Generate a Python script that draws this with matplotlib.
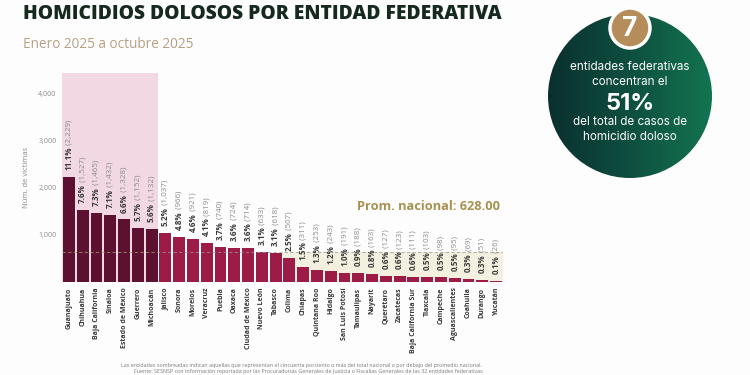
import numpy as np
import matplotlib
matplotlib.use('Agg')
import matplotlib.pyplot as plt
from matplotlib.patches import Circle, Rectangle

ESTADOS = ['Guanajuato', 'Chihuahua', 'Baja California', 'Sinaloa', 'Estado de México',
           'Guerrero', 'Michoacán', 'Jalisco', 'Sonora', 'Morelos', 'Veracruz', 'Puebla',
           'Oaxaca', 'Ciudad de México', 'Nuevo León', 'Tabasco', 'Colima', 'Chiapas',
           'Quintana Roo', 'Hidalgo', 'San Luis Potosí', 'Tamaulipas', 'Nayarit',
           'Querétaro', 'Zacatecas', 'Baja California Sur', 'Tlaxcala', 'Campeche',
           'Aguascalientes', 'Coahuila', 'Durango', 'Yucatán']
VICTIMAS = [2229, 1527, 1465, 1432, 1328, 1152, 1132, 1037, 966, 921, 819, 740,
            724, 714, 633, 618, 507, 311, 253, 243, 191, 188, 163, 127, 123, 111,
            103, 98, 95, 69, 51, 26]
PORCENTAJES = [11.1, 7.6, 7.3, 7.1, 6.6, 5.7, 5.6, 5.2, 4.8, 4.6, 4.1, 3.7, 3.6, 3.6,
               3.1, 3.1, 2.5, 1.5, 1.3, 1.2, 1.0, 0.9, 0.8, 0.6, 0.6, 0.6, 0.5, 0.5,
               0.5, 0.3, 0.3, 0.1]
PROMEDIO = 628.00
N_TOP = 7          # entidades que concentran el 51%
PRIMER_BAJO = 16   # Colima, primera por debajo del promedio
Y_TICKS = [1000, 2000, 3000, 4000]

plt.rcParams['font.family'] = ['Open Sans', 'DejaVu Sans']

fig = plt.figure(figsize=(7.5, 3.75), dpi=100)
fig.patch.set_facecolor('#fdfdfd')

W, H = 750, 375
ax = fig.add_axes([62 / W, 1 - 282 / H, (503 - 62) / W, (282 - 72.5) / H])
ax.set_facecolor('none')

x = np.arange(len(ESTADOS))
colores = ['#5e1030' if i < N_TOP else '#9c1b47' for i in x]

# zonas sombreadas
ax.axvspan(-0.5, N_TOP - 0.5, color='#f1d8e3', zorder=0, lw=0)
ax.add_patch(Rectangle((PRIMER_BAJO - 0.5, 0), len(ESTADOS) - PRIMER_BAJO, PROMEDIO,
                       facecolor='#f3f0e0', lw=0, zorder=0))

ax.bar(x, VICTIMAS, width=0.86, color=colores, zorder=2)
ax.axhline(PROMEDIO, color='#9a9a8a', lw=0.8, ls=(0, (3, 2)), alpha=0.7, zorder=3)

ax.set_xlim(-0.5, len(ESTADOS) - 0.5)
ax.set_ylim(0, 4450)
ax.set_xticks(x)
ax.set_xticklabels(ESTADOS, rotation=90, fontsize=5.0, fontweight='bold', color='#3a3a3a')
ax.set_yticks(Y_TICKS)
ax.set_yticklabels([f'{t:,}' for t in Y_TICKS], fontsize=5, color='#8a8a8a')
ax.tick_params(length=0, pad=4)
ax.set_ylabel('Núm. de víctimas', fontsize=5.5, color='#8a8a8a', labelpad=6)
for s in ax.spines.values():
    s.set_visible(False)

ax.text(PRIMER_BAJO + 4.9, 1610, f'Prom. nacional: {PROMEDIO:.2f}', fontsize=9.2,
        fontweight='bold', color='#a89050', va='center', ha='left')

# etiquetas de barras
pct_txt = []
for i, (v, p) in enumerate(zip(VICTIMAS, PORCENTAJES)):
    t = ax.annotate(f'{p:.1f}%', (i, v), xytext=(0, 5), textcoords='offset points',
                    rotation=90, ha='center', va='bottom', fontsize=5.8,
                    fontweight='bold', color='#3a3a3a')
    pct_txt.append(t)
fig.canvas.draw()
r = fig.canvas.get_renderer()
inv = ax.transData.inverted()
for i, t in enumerate(pct_txt):
    bb = t.get_window_extent(r)
    y_top = inv.transform((bb.x0, bb.y1))[1]
    ax.text(i, y_top, f' ({VICTIMAS[i]:,})', rotation=90, ha='center', va='bottom',
            fontsize=5.8, color='#8a8a8a')

# titulos
fig.text(23 / W, 1 - 14 / H, 'HOMICIDIOS DOLOSOS POR ENTIDAD FEDERATIVA', fontsize=13.9,
         fontweight='heavy', color='#16291f', va='center', ha='left')
fig.text(23 / W, 1 - 44 / H, 'Enero 2025 a octubre 2025', fontsize=9.8,
         color='#b5a083', va='center', ha='left')

# notas
fig.text(301 / W, 1 - 365 / H,
         'Las entidades sombreadas indican aquellas que representan el cincuenta porciento o más '
         'del total nacional o por debajo del promedio nacional.',
         fontsize=3.9, color='#7a7a7a', ha='center', va='center')
fig.text(309 / W, 1 - 371 / H,
         'Fuente: SESNSP con información reportada por las Procuradurías Generales de Justicia '
         'o Fiscalías Generales de las 32 entidades federativas.',
         fontsize=3.9, color='#7a7a7a', ha='center', va='center')

# circulo derecho
ov = fig.add_axes([0, 0, 1, 1], zorder=5)
ov.set_xlim(0, W)
ov.set_ylim(H, 0)
ov.axis('off')
cx, cy, rad = 630, 96, 82
grad = np.linspace(0, 1, 256).reshape(1, -1)
cmap = matplotlib.colors.LinearSegmentedColormap.from_list('g', ['#0b302f', '#0e4f40', '#137450'])
im = ov.imshow(grad, cmap=cmap, extent=[cx - rad, cx + rad, cy + rad, cy - rad],
               aspect='auto', zorder=1)
circ = Circle((cx, cy), rad, transform=ov.transData, facecolor='none', lw=0)
ov.add_patch(circ)
im.set_clip_path(circ)
ov.add_patch(Circle((cx, 28), 20, facecolor='#b58d5a', edgecolor='white', lw=2.5, zorder=3))
fam = ['Inter', 'DejaVu Sans']
ov.text(cx, 29, str(N_TOP), fontsize=19, fontweight='bold', color='white',
        ha='center', va='center', zorder=4, family=fam)
for yy, s in [(67, 'entidades federativas'), (82, 'concentran el'),
              (122, 'del total de casos de'), (137, 'homicidio doloso')]:
    ov.text(cx, yy, s, fontsize=8.4, color='white', ha='center', va='center',
            zorder=4, family=fam)
ov.text(cx, 104, '51%', fontsize=17, fontweight='bold', color='white', ha='center',
        va='center', zorder=4, family=fam)

fig.savefig('out.png', dpi=100, facecolor=fig.get_facecolor())
